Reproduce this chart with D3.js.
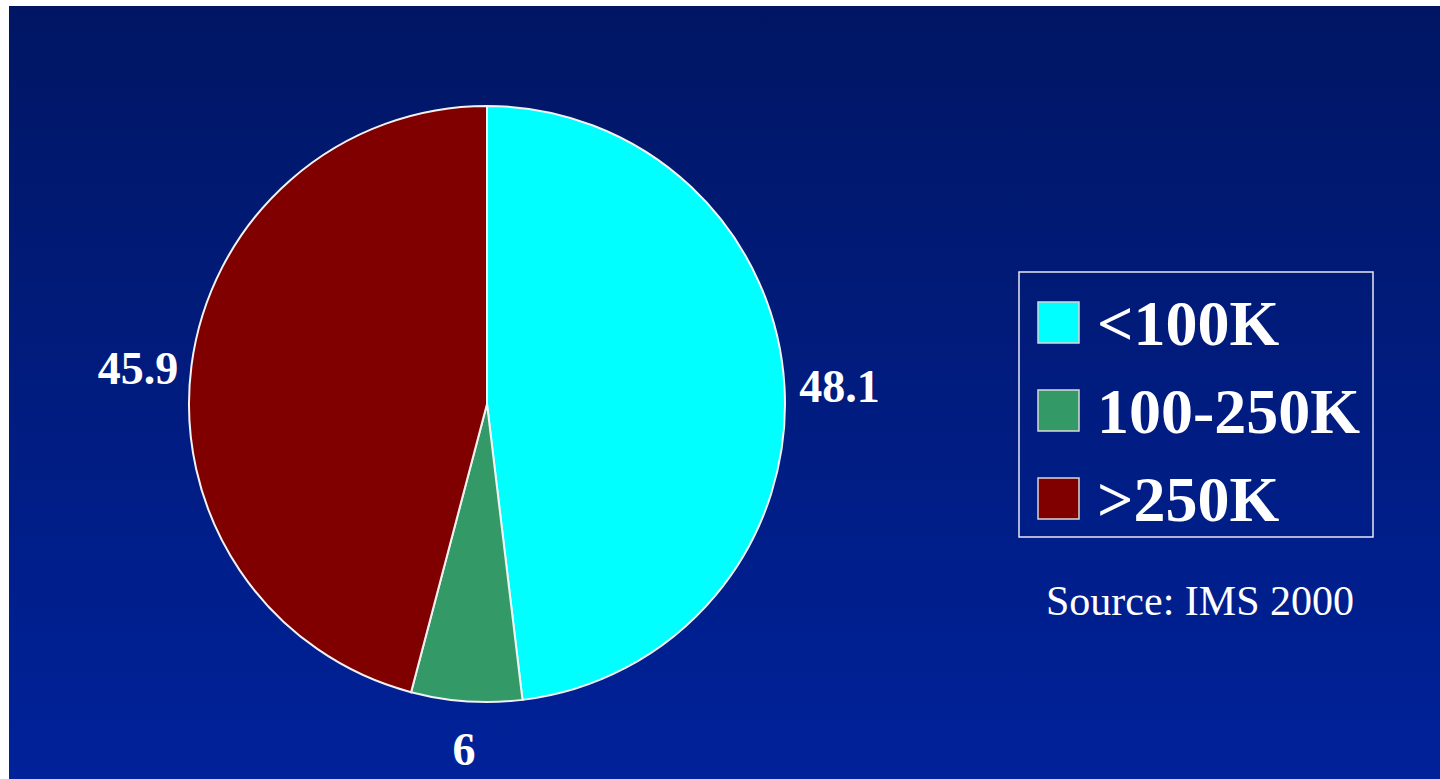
<!DOCTYPE html>
<html>
<head>
<meta charset="utf-8">
<script src="https://cdn.jsdelivr.net/npm/d3@7/dist/d3.min.js"></script>
<style>
  html, body { margin: 0; padding: 0; background: #fff; overflow: hidden; }
</style>
</head>
<body>
<script>
const categories = ["<100K", "100-250K", ">250K"]
const values = [48.1, 6, 45.9]
const colors = ["#00ffff", "#339966", "#800000"]
const source = "Source: IMS 2000"

let w = 1440, h = 779
let svg = d3.select("body").append("svg")
    .attr("width", w)
    .attr("height", h)

// background: banded blue gradient like the old slide
let defs = svg.append("defs")
let grad = defs.append("linearGradient")
    .attr("id", "bg")
    .attr("x1", 0).attr("y1", 0).attr("x2", 0).attr("y2", 1)
grad.append("stop").attr("offset", "0%").attr("stop-color", "#001664")
grad.append("stop").attr("offset", "100%").attr("stop-color", "#00229a")
svg.append("rect")
    .attr("x", 9).attr("y", 6)
    .attr("width", w - 9).attr("height", h - 6)
    .attr("fill", "url(#bg)")

let cx = 487, cy = 404, r = 298
let pie = d3.pie().sort(null).value(d => d.value)
let arc = d3.arc().innerRadius(0).outerRadius(r)
let data = categories.map((c, i) => ({cat: c, value: values[i], color: colors[i]}))
let arcs = pie(data)

let g = svg.append("g").attr("transform", `translate(${cx},${cy})`)
g.selectAll("path")
    .data(arcs)
    .enter()
    .append("path")
    .attr("d", arc)
    .attr("fill", d => d.data.color)
    .attr("stroke", "#f2f2f2")
    .attr("stroke-width", 2)

// value labels outside the slices
let labelArc = d3.arc().innerRadius(r + 50).outerRadius(r + 50)
let nudge = [[5, 3], [1, -2], [-4, 9]]
g.selectAll("text")
    .data(arcs)
    .enter()
    .append("text")
    .attr("x", (d, i) => labelArc.centroid(d)[0] + nudge[i][0])
    .attr("y", (d, i) => labelArc.centroid(d)[1] + nudge[i][1])
    .attr("text-anchor", "middle")
    .attr("dominant-baseline", "central")
    .attr("font-family", "'Liberation Serif', 'Times New Roman', serif")
    .attr("font-weight", "bold")
    .attr("font-size", 46)
    .attr("fill", "#fff")
    .text(d => d.data.value)

// legend
let lg = svg.append("g").attr("transform", "translate(1019,272)")
lg.append("rect")
    .attr("width", 354).attr("height", 265)
    .attr("fill", "none")
    .attr("stroke", "#e8e8f0")
    .attr("stroke-width", 1.5)
let rows = lg.selectAll("g.row")
    .data(data)
    .enter()
    .append("g")
    .attr("class", "row")
    .attr("transform", (d, i) => `translate(0,${30 + i * 88})`)
rows.append("rect")
    .attr("x", 19).attr("y", 0)
    .attr("width", 41).attr("height", 41)
    .attr("fill", d => d.color)
    .attr("stroke", "#d8d8d8")
    .attr("stroke-width", 1.5)
rows.append("text")
    .attr("x", 78).attr("y", 43)
    .attr("font-family", "'Liberation Serif', 'Times New Roman', serif")
    .attr("font-weight", "bold")
    .attr("font-size", 64)
    .attr("fill", "#fff")
    .text(d => d.cat)

svg.append("text")
    .attr("x", 1200).attr("y", 615)
    .attr("text-anchor", "middle")
    .attr("font-family", "'Liberation Serif', 'Times New Roman', serif")
    .attr("font-size", 42)
    .attr("fill", "#fff")
    .text(source)
</script>
</body>
</html>
